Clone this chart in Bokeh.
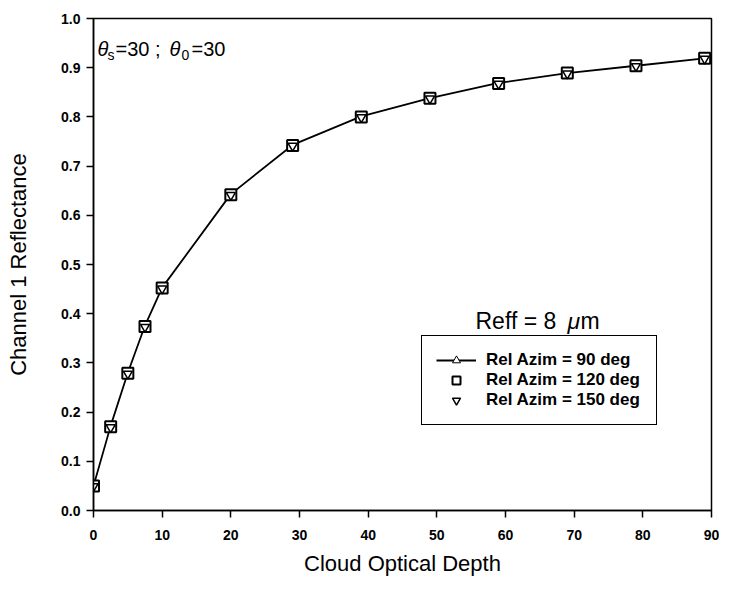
from bokeh.plotting import figure
from bokeh.models import FixedTicker, PrintfTickFormatter, Label, Legend, LegendItem
from bokeh.embed import file_html
from bokeh.resources import INLINE

# ---- data ----
tau = [0, 2.5, 5, 7.5, 10, 20, 29, 39, 49, 59, 69, 79, 89]
refl_az90 = [0.050, 0.172, 0.280, 0.376, 0.453, 0.643, 0.743, 0.801, 0.838, 0.869, 0.889, 0.904, 0.919]
refl_az120 = [0.050, 0.170, 0.279, 0.374, 0.452, 0.642, 0.742, 0.800, 0.838, 0.868, 0.889, 0.904, 0.919]
refl_az150 = [0.049, 0.169, 0.278, 0.373, 0.451, 0.641, 0.741, 0.799, 0.837, 0.867, 0.888, 0.903, 0.918]
x_ticks = [0, 10, 20, 30, 40, 50, 60, 70, 80, 90]
y_ticks = [0.0, 0.1, 0.2, 0.3, 0.4, 0.5, 0.6, 0.7, 0.8, 0.9, 1.0]
series_labels = ["Rel Azim = 90 deg", "Rel Azim = 120 deg", "Rel Azim = 150 deg"]

FONT = "Liberation Sans"

p = figure(width=719, height=578, x_range=(0, 90), y_range=(0, 1),
           output_backend="svg", toolbar_location=None,
           min_border_left=93, min_border_right=8, min_border_top=18, min_border_bottom=66,
           background_fill_color="white", border_fill_color="white")

p.xgrid.visible = False
p.ygrid.visible = False
p.outline_line_color = "black"
p.outline_line_width = 1.5

for ax in (p.xaxis[0], p.yaxis[0]):
    ax.axis_line_width = 1.5
    ax.major_tick_line_width = 1.5
    ax.major_tick_in = 0
    ax.major_tick_out = 7
    ax.minor_tick_line_color = None
    ax.major_label_text_font = FONT
    ax.major_label_text_font_style = "bold"
    ax.major_label_text_font_size = "14px"
    ax.major_label_text_color = "black"
    ax.axis_label_text_font = FONT
    ax.axis_label_text_font_style = "normal"
    ax.axis_label_text_font_size = "22px"
    ax.axis_label_text_color = "black"

p.xaxis.ticker = FixedTicker(ticks=x_ticks)
p.yaxis.ticker = FixedTicker(ticks=y_ticks)
p.yaxis.formatter = PrintfTickFormatter(format="%.1f")
p.xaxis.axis_label = "Cloud Optical Depth"
p.yaxis.axis_label = "Channel 1 Reflectance"
p.xaxis.major_label_standoff = 12
p.yaxis.major_label_standoff = 6
p.xaxis.axis_label_standoff = 8
p.yaxis.axis_label_standoff = 27

# series
r_line = p.line(tau, refl_az90, line_color="black", line_width=1.8)
r_tri = p.scatter(tau, refl_az90, marker="triangle", size=5, line_color="black",
                  fill_color="white", line_width=1)
r_sq = p.scatter(tau, refl_az120, marker="square", size=11, line_color="black",
                 fill_color="white", line_width=2)
r_itri = p.scatter(tau, refl_az150, marker="inverted_triangle", size=9, line_color="black",
                   fill_color="white", line_width=1.5)

legend = Legend(items=[
    LegendItem(label=series_labels[0], renderers=[r_line, r_tri]),
    LegendItem(label=series_labels[1], renderers=[r_sq]),
    LegendItem(label=series_labels[2], renderers=[r_itri]),
], location=(328, 85))
legend.border_line_color = "black"
legend.border_line_width = 1.6
legend.border_line_alpha = 1.0
legend.background_fill_color = "white"
legend.background_fill_alpha = 1
legend.padding = 14
legend.margin = 0
legend.spacing = 0
legend.glyph_width = 40
legend.glyph_height = 20
legend.label_standoff = 10
legend.label_width = 156
legend.label_text_font = FONT
legend.label_text_font_style = "bold"
legend.label_text_font_size = "17px"
legend.label_text_color = "black"
legend.label_text_baseline = "middle"
p.add_layout(legend, "center")

# annotations (screen units relative to the plot frame)
def lab(text, x, y, size, style="normal"):
    p.add_layout(Label(x=x, y=y, x_units="screen", y_units="screen", text=text,
                       text_font=FONT, text_font_size=size, text_font_style=style,
                       text_color="black", text_baseline="alphabetic", text_align="left"))

lab("θ", 4, 462, "20px", "italic")
lab("s", 14, 456, "14px")
lab("=30 ; ", 22, 462, "20px")
lab("θ", 76, 462, "20px", "italic")
lab("0", 88, 456, "14px")
lab("=30", 98, 462, "20px")

lab("Reff = 8", 382, 190, "23px")
lab("μ", 474, 190, "23px", "italic")
lab("m", 487, 190, "23px")

open("out.html", "w").write(file_html(p, INLINE))
